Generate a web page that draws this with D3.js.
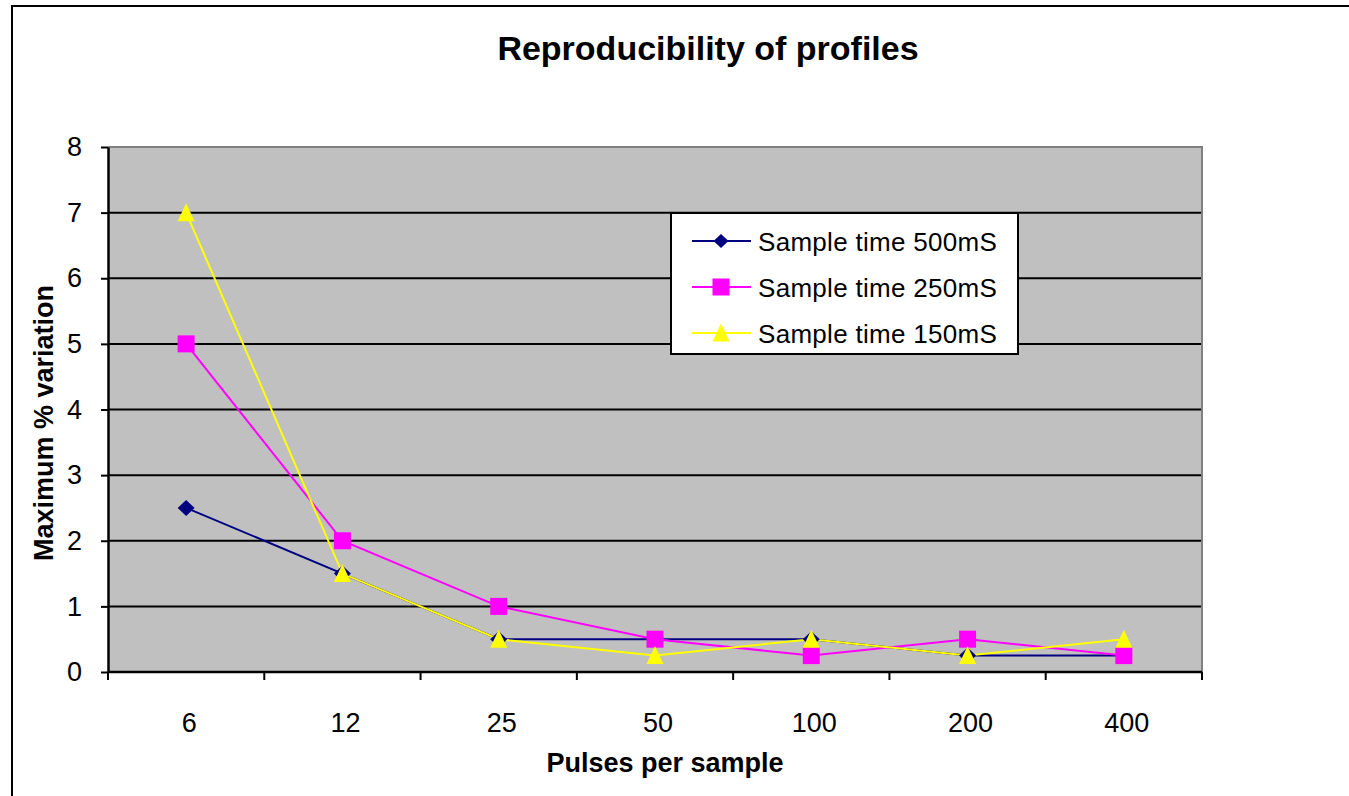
<!DOCTYPE html>
<html>
<head>
<meta charset="utf-8">
<script src="https://cdn.jsdelivr.net/npm/d3@7"></script>
<style>
  html, body { margin: 0; padding: 0; background: #fff; }
  svg { display: block; font-family: Arial, "Liberation Sans", sans-serif; }
</style>
</head>
<body>
<svg id="chart" width="1349" height="796"></svg>
<script>
// Pulses per sample (categories) and maximum % variation per sample time
const categories = ["6", "12", "25", "50", "100", "200", "400"];
const series500 = [2.5, 1.5, 0.5, 0.5, 0.5, 0.25, 0.25];
const series250 = [5, 2, 1, 0.5, 0.25, 0.5, 0.25];
const series150 = [7, 1.5, 0.5, 0.25, 0.5, 0.25, 0.5];
const seriesNames = ["Sample time 500mS", "Sample time 250mS", "Sample time 150mS"];
const yTicks = [0, 1, 2, 3, 4, 5, 6, 7, 8];

// marker shapes; "size" is the marker's width in px
const markerDiamond = {
  draw(ctx, s) {
    const h = s / 2, v = s / 2 - 0.5;
    ctx.moveTo(0, -v); ctx.lineTo(h, 0); ctx.lineTo(0, v); ctx.lineTo(-h, 0); ctx.closePath();
  }
};
const markerSquare = {
  draw(ctx, s) {
    const h = s / 2;
    ctx.rect(-h, -h, s, s);
  }
};
const markerTriangle = {
  draw(ctx, s) {
    const h = s / 2;
    ctx.moveTo(0, -h - 1); ctx.lineTo(h, h); ctx.lineTo(-h, h); ctx.closePath();
  }
};

const seriesList = [
  { name: seriesNames[0], values: series500, color: "#000080", symbol: markerDiamond, size: 17 },
  { name: seriesNames[1], values: series250, color: "#FF00FF", symbol: markerSquare, size: 17 },
  { name: seriesNames[2], values: series150, color: "#FFFF00", symbol: markerTriangle, size: 17 }
];

const svg = d3.select("#chart");

// outer chart frame
svg.append("rect")
  .attr("x", 12).attr("y", 6).attr("width", 1345).attr("height", 800)
  .attr("fill", "#fff").attr("stroke", "#000").attr("stroke-width", 2);

const plot = { left: 108, top: 147, right: 1202, bottom: 672 };

const x = d3.scaleBand().domain(categories).range([plot.left, plot.right]);
const y = d3.scaleLinear().domain([0, 8]).range([plot.bottom, plot.top]);

// plot background
svg.append("rect")
  .attr("x", plot.left).attr("y", plot.top)
  .attr("width", plot.right - plot.left).attr("height", plot.bottom - plot.top)
  .attr("fill", "#C0C0C0");

// horizontal gridlines
svg.append("g").selectAll("line")
  .data(yTicks.filter(d => d > 0 && d < 8))
  .join("line")
  .attr("x1", plot.left).attr("x2", plot.right)
  .attr("y1", d => y(d)).attr("y2", d => y(d))
  .attr("stroke", "#000").attr("stroke-width", 2);

// gray top and right edges of the plot area
svg.append("path")
  .attr("d", `M${plot.left},${plot.top}H${plot.right}V${plot.bottom}`)
  .attr("fill", "none").attr("stroke", "#808080").attr("stroke-width", 2);

// Y axis
const yAxis = svg.append("g")
  .attr("transform", `translate(${plot.left},0)`)
  .call(d3.axisLeft(y).tickValues(yTicks).tickSize(7).tickPadding(19).tickSizeOuter(0));
yAxis.select(".domain").attr("stroke", "#000").attr("stroke-width", 2.5);
yAxis.selectAll(".tick line").attr("stroke", "#000").attr("stroke-width", 2);
yAxis.selectAll(".tick text")
  .attr("font-size", 27).attr("fill", "#000")
  .attr("font-family", "Arial, 'Liberation Sans', sans-serif");

// X axis: ticks at band boundaries, labels at band centres
const xg = svg.append("g").attr("transform", `translate(0,${plot.bottom})`);
xg.append("line")
  .attr("x1", plot.left).attr("x2", plot.right)
  .attr("stroke", "#000").attr("stroke-width", 2.5);
const boundaries = categories.map(c => x(c)).concat([x(categories[categories.length - 1]) + x.bandwidth()]);
xg.selectAll(".bt").data(boundaries).join("line")
  .attr("class", "bt")
  .attr("x1", d => d).attr("x2", d => d)
  .attr("y1", 0).attr("y2", 8)
  .attr("stroke", "#000").attr("stroke-width", 2);
xg.selectAll(".lbl").data(categories).join("text")
  .attr("class", "lbl")
  .attr("x", d => x(d) + x.bandwidth() / 2 + 3)
  .attr("y", 60)
  .attr("text-anchor", "middle")
  .attr("font-size", 27)
  .attr("fill", "#000")
  .text(d => d);

// series lines and markers
const cx = i => x(categories[i]) + x.bandwidth() / 2;
const line = d3.line().x((d, i) => cx(i)).y(d => y(d));

seriesList.forEach(s => {
  svg.append("path")
    .datum(s.values)
    .attr("d", line)
    .attr("fill", "none")
    .attr("stroke", s.color)
    .attr("stroke-width", 2);
});
seriesList.forEach(s => {
  svg.append("g").selectAll("path")
    .data(s.values)
    .join("path")
    .attr("transform", (d, i) => `translate(${cx(i)},${y(d)})`)
    .attr("d", d3.symbol().type(s.symbol).size(s.size))
    .attr("fill", s.color);
});

// legend
const legend = svg.append("g");
legend.append("rect")
  .attr("x", 671).attr("y", 213).attr("width", 347).attr("height", 141)
  .attr("fill", "#fff").attr("stroke", "#000").attr("stroke-width", 2);
const rowY = [241, 287, 333];
seriesList.forEach((s, i) => {
  const g = legend.append("g").attr("transform", `translate(0,${rowY[i]})`);
  g.append("line").attr("x1", 692).attr("x2", 751)
    .attr("stroke", s.color).attr("stroke-width", 2);
  g.append("path")
    .attr("transform", "translate(721,0)")
    .attr("d", d3.symbol().type(s.symbol).size(s.symbol === markerDiamond ? 15 : 17))
    .attr("fill", s.color);
  g.append("text")
    .attr("x", 758).attr("y", 10)
    .attr("font-size", 26)
    .attr("letter-spacing", 0.3)
    .attr("fill", "#000")
    .text(s.name);
});

// titles
svg.append("text")
  .attr("x", 708).attr("y", 60)
  .attr("text-anchor", "middle")
  .attr("font-size", 34).attr("font-weight", "bold")
  .text("Reproducibility of profiles");

svg.append("text")
  .attr("x", 665).attr("y", 772)
  .attr("text-anchor", "middle")
  .attr("font-size", 27).attr("font-weight", "bold")
  .text("Pulses per sample");

svg.append("text")
  .attr("transform", `translate(53,423) rotate(-90)`)
  .attr("text-anchor", "middle")
  .attr("font-size", 27).attr("font-weight", "bold")
  .text("Maximum % variation");
</script>
</body>
</html>
